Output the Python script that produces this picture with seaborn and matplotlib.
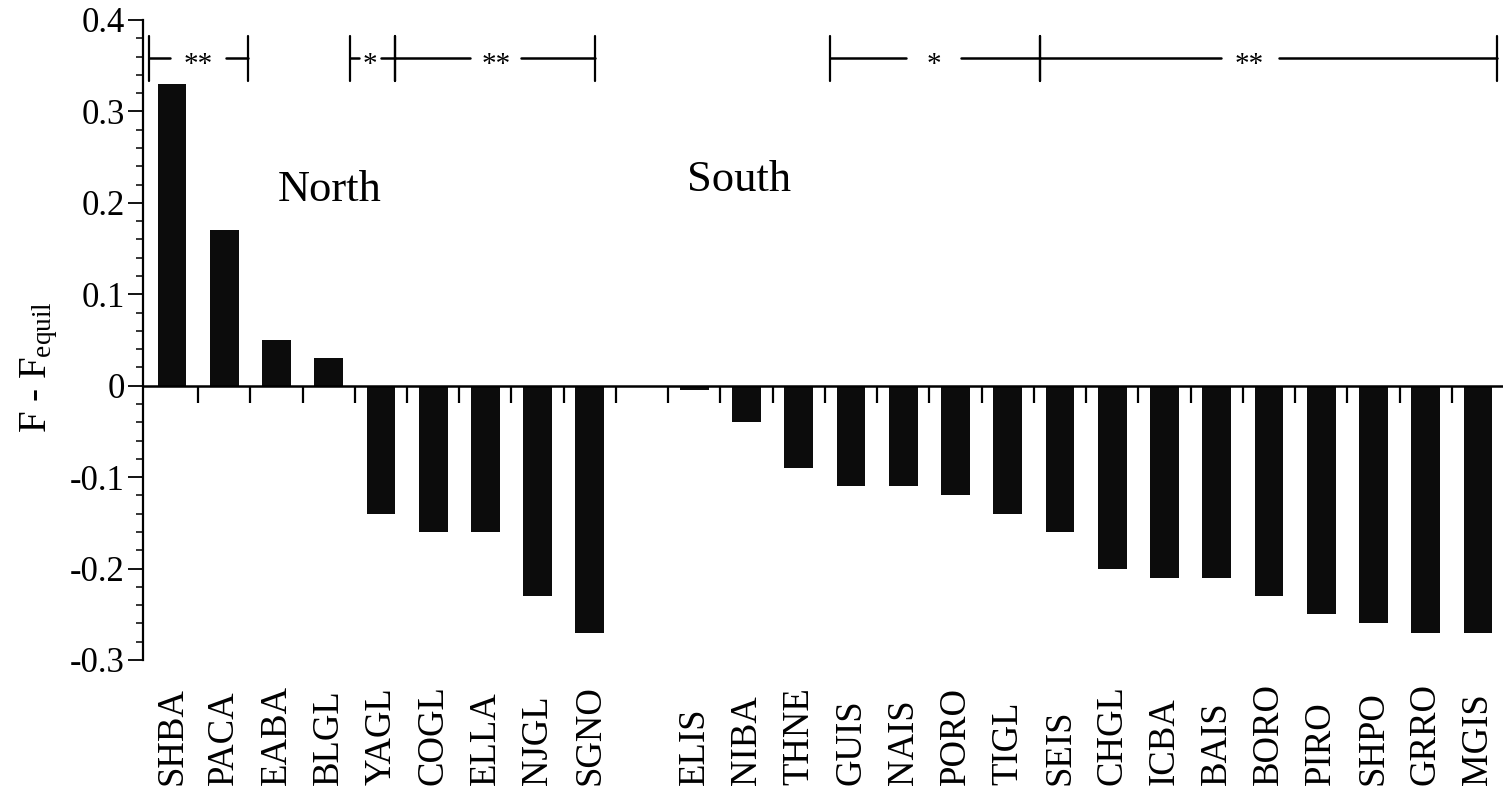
import matplotlib
matplotlib.use("Agg")
import matplotlib.pyplot as plt
import matplotlib.transforms as mtransforms
from matplotlib.ticker import MultipleLocator
import numpy as np
import pandas as pd
import seaborn as sns

# Populations and their deviation from equilibrium
north_sites = ["SHBA", "PACA", "EABA", "BLGL", "YAGL", "COGL", "ELLA", "NJGL", "SGNO"]
north_values = [0.33, 0.17, 0.05, 0.03, -0.14, -0.16, -0.16, -0.23, -0.27]

south_sites = ["ELIS", "NIBA", "THNE", "GUIS", "NAIS", "PORO", "TIGL", "SEIS",
               "CHGL", "ICBA", "BAIS", "BORO", "PIRO", "SHPO", "GRRO", "MGIS"]
south_values = [-0.005, -0.04, -0.09, -0.11, -0.11, -0.12, -0.14, -0.16,
                -0.20, -0.21, -0.21, -0.23, -0.25, -0.26, -0.27, -0.27]

ytick_values = [-0.3, -0.2, -0.1, 0.0, 0.1, 0.2, 0.3, 0.4]
ytick_labels = ["-0.3", "-0.2", "-0.1", "0", "0.1", "0.2", "0.3", "0.4"]

# Significance brackets: (left, right, label, label centre, half gap) in slot units
brackets = [
    (-0.44, 1.45, "**", 0.50, 0.54),
    (3.41, 4.27, "*", 3.79, 0.21),
    (4.27, 8.10, "**", 6.20, 0.49),
    (12.59, 16.61, "*", 14.58, 0.52),
    (16.61, 25.36, "**", 20.63, 0.555),
]

sns.set_style("white")
plt.rcParams["font.family"] = ["Liberation Serif", "DejaVu Serif"]
plt.rcParams["mathtext.fontset"] = "custom"
plt.rcParams["mathtext.rm"] = "Liberation Serif"
plt.rcParams["mathtext.it"] = "Liberation Serif:italic"
plt.rcParams["mathtext.bf"] = "Liberation Serif:bold"
for key in ("text.color", "axes.labelcolor", "xtick.color", "ytick.color", "axes.edgecolor"):
    plt.rcParams[key] = "black"

df = pd.DataFrame({
    "site": north_sites + south_sites,
    "region": ["North"] * len(north_sites) + ["South"] * len(south_sites),
    "value": north_values + south_values,
})
# a blank slot separates the two regions
order = north_sites + [" "] + south_sites
n_slots = len(order)

fig = plt.figure(figsize=(15.03, 7.98), dpi=100)
ax = fig.add_axes([143 / 1503, 1 - 660 / 798, (1503 - 143) / 1503, 640 / 798])

sns.barplot(data=df, x="site", y="value", order=order, color="#0c0c0c",
            saturation=1, width=0.55, errorbar=None, linewidth=0, ax=ax)

ax.set_xlim(-0.554, n_slots - 0.52)
ax.set_ylim(-0.3, 0.4)
ax.set_xlabel("")
ax.set_ylabel("")

# axes lines
for side in ("top", "right"):
    ax.spines[side].set_visible(False)
ax.spines["left"].set_linewidth(1.6)
ax.spines["bottom"].set_position(("data", 0))
ax.spines["bottom"].set_linewidth(1.8)

# x ticks between bars, names drawn separately
ax.set_xticks(np.arange(0.5, n_slots - 1, 1.0))
ax.tick_params(axis="x", which="major", direction="out", length=12, width=1.6,
               labelbottom=False, bottom=True)
label_tf = mtransforms.blended_transform_factory(ax.transData, ax.transAxes)
for i, name in enumerate(order):
    if name.strip():
        ax.text(i, -0.196, name, transform=label_tf, rotation=90,
                rotation_mode="anchor", ha="left", va="center", fontsize=26.5)

# y ticks
ax.set_yticks(ytick_values, labels=ytick_labels)
ax.yaxis.set_minor_locator(MultipleLocator(0.02))
ax.tick_params(axis="y", which="major", direction="out", length=11, width=1.3,
               labelsize=25, pad=2, left=True)
ax.tick_params(axis="y", which="minor", direction="out", length=5, width=1.1,
               left=True)

ax.text(-0.076, 0.458, r"F - F$_{\mathregular{equil}}$", transform=ax.transAxes,
        rotation=90, ha="center", va="center", fontsize=28)

# region names
ax.text(3.02, 0.214, "North", ha="center", va="center", fontsize=32)
ax.text(10.86, 0.225, "South", ha="center", va="center", fontsize=32)

# significance brackets
y_line, y_lo, y_hi = 0.358, 0.333, 0.382
for left, right, label, mid, gap in brackets:
    ax.plot([left, left], [y_lo, y_hi], color="black", lw=1.6, clip_on=False)
    ax.plot([right, right], [y_lo, y_hi], color="black", lw=1.6, clip_on=False)
    ax.plot([left, mid - gap], [y_line, y_line], color="black", lw=1.8, clip_on=False)
    ax.plot([mid + gap, right], [y_line, y_line], color="black", lw=1.8, clip_on=False)
    ax.text(mid, 0.343, label, ha="center", va="baseline", fontsize=21)

fig.savefig("out.png", dpi=100)
